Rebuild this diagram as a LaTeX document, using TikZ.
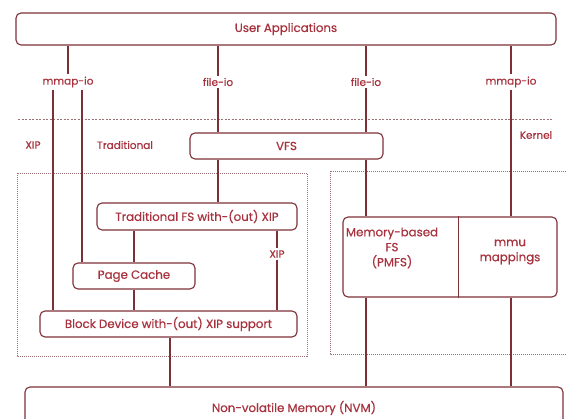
\documentclass[tikz,border=0pt]{standalone}
\usepackage{fontspec}
\setmainfont{Poppins}[FakeBold=0.6]
\definecolor{ln}{HTML}{7E3038}
\definecolor{tx}{HTML}{A8323E}
\definecolor{dt}{HTML}{9A7075}
\begin{document}
\begin{tikzpicture}[x=1pt,y=-1pt,
  box/.style={draw=ln,line width=1.1pt,rounded corners=5pt,text=tx,font=\fontsize{11.8}{14}\selectfont,inner sep=0pt,align=center},
  lbl/.style={text=tx,font=\fontsize{11.8}{15}\selectfont,inner sep=2pt},
  slbl/.style={text=tx,font=\fontsize{10.5}{12}\selectfont,inner sep=2pt},
  conn/.style={draw=ln,line width=1.3pt},
  dotbox/.style={draw=dt,line width=0.9pt,dash pattern=on 1pt off 1pt}]
\useasboundingbox (0,0) rectangle (566,419);
% boxes
\node[box,minimum width=540pt,minimum height=32pt] (ua) at (286,29) {User Applications};
\node[box,minimum width=193pt,minimum height=26pt] (vfs) at (286.5,146) {VFS};
\node[box,minimum width=200pt,minimum height=27pt] (tfs) at (197,216.5) {Traditional FS with-(out) XIP};
\node[box,minimum width=122pt,minimum height=26pt] (pc) at (134,276) {Page Cache};
\node[box,minimum width=257pt,minimum height=26pt] (bd) at (168.5,324) {Block Device with-(out) XIP support};
\node[box,minimum width=538pt,minimum height=44pt] (nvm) at (294,409) {};
\node[lbl] (nvmt) at (294,408) {Non-volatile Memory (NVM)};
\node[box,minimum width=214pt,minimum height=80pt] (mfs) at (450,257) {};
\node[lbl,align=center] (mfst) at (392,248) {Memory-based\\FS\\(PMFS)};
\node[lbl,align=center] (mmut) at (510,252) {mmu\\mappings};
\draw[ln,line width=0.9pt] (mfs.north -| 458,0) -- (mfs.south -| 458,0);
% region boxes and kernel line
\draw[dotbox] (17,173) rectangle (307,356);
\draw[dotbox] (330,171) rectangle (572,354);
\draw[dt,line width=1pt,dash pattern=on 2pt off 1.5pt] (18,120) -- (553,120);
% labels
\node[slbl] (m1) at (68,82) {mmap-io};
\node[slbl] (f1) at (218,82) {file-io};
\node[slbl] (f2) at (366,82) {file-io};
\node[slbl] (m2) at (511,82) {mmap-io};
\node[slbl] (xipl) at (33,145) {XIP};
\node[slbl] (trad) at (125,145) {Traditional};
\node[slbl] (kern) at (536,135) {Kernel};
\node[slbl] (xipm) at (277,254) {XIP};
% connectors
\draw[conn] (ua.south -| m1) -- (m1.north);
\draw[conn] (ua.south -| f1) -- (f1.north);
\draw[conn] (ua.south -| f2) -- (f2.north);
\draw[conn] (ua.south -| m2) -- (m2.north);
\draw[conn] ([xshift=-15pt]m1.south) -- ([xshift=-15pt]m1.south |- bd.north);
\draw[conn] ([xshift=14pt]m1.south) -- ([xshift=14pt]m1.south |- pc.north);
\draw[conn] (f1.south) -- (f1.south |- vfs.north);
\draw[conn] (f2.south) -- (f2.south |- vfs.north);
\draw[conn] (vfs.south -| f1) -- (tfs.north -| f1);
\draw[conn] (vfs.south -| f2) -- (mfs.north -| f2);
\draw[conn] (m2.south) -- (m2.south |- mfs.north);
\draw[conn] (tfs.south -| pc) -- (pc.north);
\draw[conn] (pc.south) -- (pc.south |- bd.north);
\draw[conn] (tfs.south -| xipm) -- (xipm.north);
\draw[conn] (xipm.south) -- (xipm.south |- bd.north);
\draw[conn] (bd.south -| 170,0) -- (nvm.north -| 170,0);
\draw[conn] (mfs.south -| f2) -- (nvm.north -| f2);
\draw[conn] (mfs.south -| m2) -- (nvm.north -| m2);
\end{tikzpicture}
\end{document}
